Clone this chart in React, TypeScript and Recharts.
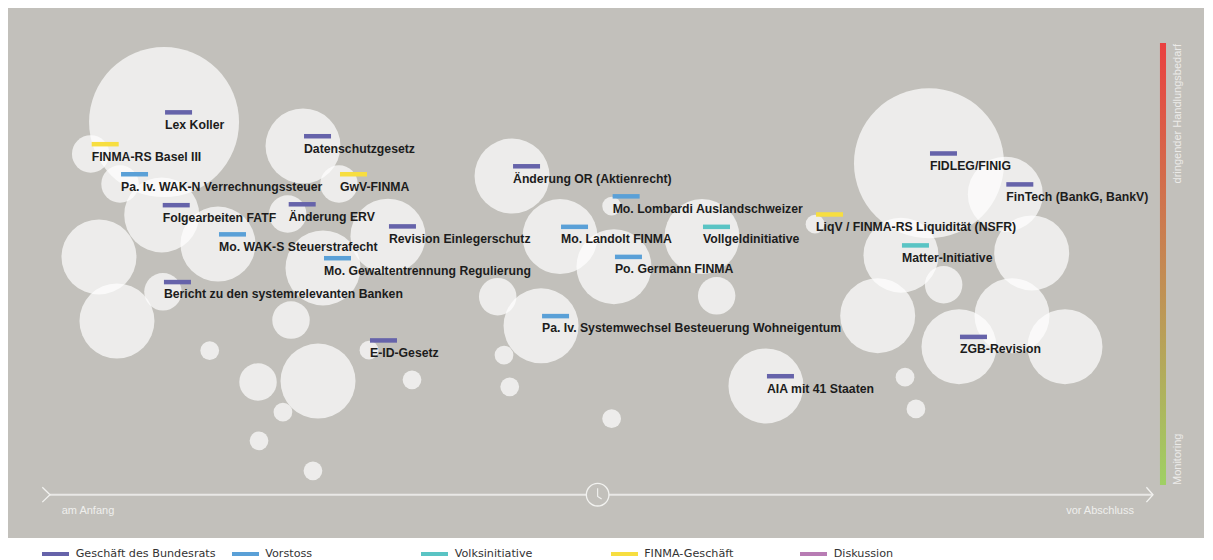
import React from 'react';
import { ScatterChart, Scatter, XAxis, YAxis, ZAxis, ReferenceArea } from 'recharts';

// ---- categories (legend) ----
const categoryNames = ['Geschäft des Bundesrats', 'Vorstoss', 'Volksinitiative', 'FINMA-Geschäft', 'Diskussion'];
const categoryColors = ['#6663aa', '#5aa0d7', '#5ac4c4', '#f7de40', '#b87cb4'];

// ---- items ----
const titles = [
  'Lex Koller', 'FINMA-RS Basel III', 'Pa. Iv. WAK-N Verrechnungssteuer', 'Folgearbeiten FATF',
  'Datenschutzgesetz', 'GwV-FINMA', 'Änderung ERV', 'Mo. WAK-S Steuerstrafecht', '',
  'Revision Einlegerschutz', 'Mo. Gewaltentrennung Regulierung', 'Bericht zu den systemrelevanten Banken',
  '', '', '', 'E-ID-Gesetz', '', '', '', '', '', '',
  'Änderung OR (Aktienrecht)', 'Mo. Lombardi Auslandschweizer', 'Mo. Landolt FINMA', 'Po. Germann FINMA',
  'Vollgeldinitiative', 'LiqV / FINMA-RS Liquidität (NSFR)', '', 'Pa. Iv. Systemwechsel Besteuerung Wohneigentum',
  '', '', '', 'AIA mit 41 Staaten', '',
  'FIDLEG/FINIG', 'FinTech (BankG, BankV)', 'Matter-Initiative', '', '', '', '', 'ZGB-Revision', '', '', '',
];
// index into categoryNames, -1 = unlabeled
const kinds = [
  0, 3, 1, 0,
  0, 3, 0, 1, -1,
  0, 1, 0,
  -1, -1, -1, 0, -1, -1, -1, -1, -1, -1,
  0, 1, 1, 1,
  2, 3, -1, 1,
  -1, -1, -1, 0, -1,
  0, 0, 2, -1, -1, -1, -1, 0, -1, -1, -1,
];
// 0 = am Anfang, 100 = vor Abschluss
const progress = [
  10.34, 3.69, 6.35, 10.13,
  22.94, 26.2, 21.55, 15.23, 4.44,
  30.64, 24.75, 10.24,
  6.07, 21.85, 14.48, 28.92, 18.86, 24.3, 32.82, 21.12, 18.95, 23.84,
  41.89, 50.92, 46.24, 51.13,
  59.11, 69.36, 40.59, 44.52,
  60.44, 41.16, 41.68, 64.91, 50.92,
  79.69, 86.61, 77.15, 89.0, 81.02, 75.04, 87.22, 82.41, 92.02, 77.52, 78.51,
];
// 0 = Monitoring, 100 = dringender Handlungsbedarf
const urgency = [
  82.1, 74.9, 68.1, 61.1,
  76.7, 68.1, 61.3, 54.5, 51.6,
  56.3, 49.1, 43.7,
  37.1, 37.3, 30.4, 30.5, 23.3, 23.5, 23.8, 16.5, 10.0, 3.2,
  69.9, 63.1, 56.2, 49.4,
  56.2, 59.0, 42.6, 36.0,
  42.8, 29.4, 22.2, 22.4, 15.0,
  72.8, 65.8, 52.0, 52.5, 45.3, 38.3, 38.3, 31.3, 31.3, 24.4, 17.2,
];
// relative weight (bubble area)
const weight = [
  64, 4, 4, 16,
  16, 4, 4, 16, 16,
  16, 16, 4,
  16, 4, 1, 1, 4, 16, 1, 1, 1, 1,
  16, 1, 16, 16,
  16, 1, 4, 16,
  4, 1, 1, 16, 1,
  64, 16, 16, 16, 4, 16, 16, 16, 16, 1, 1,
];

const axisTicks = [0, 49.65, 100];
const axisLabels = ['am Anfang', '', 'vor Abschluss'];
const scaleLabels = ['Monitoring', 'dringender Handlungsbedarf'];

const rows = titles.map((t, i) => ({
  title: t,
  kind: kinds[i],
  x: progress[i],
  y: urgency[i],
  z: weight[i],
}));
const labeledRows = rows.filter((r) => r.title !== '');

const BG = '#c2c0bb';
const LIGHT = '#ecebe9';

const Bubble = (p: any) => {
  const r = p.width ? p.width / 2 : Math.sqrt((p.size || 0) / Math.PI);
  return <circle cx={p.cx} cy={p.cy} r={r} fill="#ffffff" fillOpacity={0.7} />;
};

const Tag = (p: any) => {
  const d = p.payload;
  if (!d || !d.title) return <g />;
  return (
    <g>
      <rect x={p.cx + 1} y={p.cy - 12} width={27} height={4.5} fill={categoryColors[d.kind]} />
      <text
        x={p.cx + 1}
        y={p.cy + 6.6}
        fontFamily="'Liberation Sans', Arial, sans-serif"
        fontWeight="bold"
        fontSize={12.25}
        fill="#1c1c1c"
      >
        {d.title}
      </text>
    </g>
  );
};

const AxisTick = (p: any) => {
  const { x, y, payload, index } = p;
  const v = payload.value;
  const label = axisLabels[index] ?? '';
  if (v === 0) {
    return (
      <g>
        <polyline points={`${x - 7.7},${y - 7.4} ${x},${y} ${x - 7.7},${y + 7.4}`} fill="none" stroke="#f2f2f0" strokeWidth={1.3} />
        <text x={x + 11.7} y={y + 19.6} fontFamily="'Liberation Sans', Arial, sans-serif" fontSize={11} fill="#efefed">
          {label}
        </text>
      </g>
    );
  }
  if (v === 100) {
    return (
      <g>
        <polyline points={`${x - 6.6},${y - 7.4} ${x},${y} ${x - 6.6},${y + 7.4}`} fill="none" stroke="#f2f2f0" strokeWidth={1.3} />
        <text x={x - 19} y={y + 19.6} textAnchor="end" fontFamily="'Liberation Sans', Arial, sans-serif" fontSize={11} fill="#efefed">
          {label}
        </text>
      </g>
    );
  }
  return (
    <g>
      <circle cx={x} cy={y} r={11.3} fill={BG} stroke="#f2f2f0" strokeWidth={1.3} />
      <polyline points={`${x},${y - 6.4} ${x},${y + 1.8} ${x + 4},${y + 4.3}`} fill="none" stroke="#f2f2f0" strokeWidth={1.1} />
    </g>
  );
};

const ScaleBar = (p: any) => {
  const { x, y, width, height } = p;
  const tx = x + width + 15;
  return (
    <g>
      <defs>
        <linearGradient id="urgencyGrad" x1="0" y1="0" x2="0" y2="1">
          <stop offset="0%" stopColor="#ea4040" />
          <stop offset="100%" stopColor="#9fd064" />
        </linearGradient>
      </defs>
      <rect x={x} y={y} width={width} height={height} fill="url(#urgencyGrad)" />
      <text
        transform={`translate(${tx},${y + 1}) rotate(-90)`}
        textAnchor="end"
        fontFamily="'Liberation Sans', Arial, sans-serif"
        fontSize={11}
        fill={LIGHT}
      >
        {scaleLabels[1]}
      </text>
      <text
        transform={`translate(${tx},${y + height}) rotate(-90)`}
        textAnchor="start"
        fontFamily="'Liberation Sans', Arial, sans-serif"
        fontSize={11}
        fill={LIGHT}
      >
        {scaleLabels[0]}
      </text>
    </g>
  );
};

export default function App() {
  return (
    <div style={{ position: 'relative', width: 1196, height: 552 }}>
      <div style={{ position: 'absolute', left: 0, top: 0, width: 1196, height: 530, background: BG }} />
      <div style={{ position: 'absolute', left: 0, top: 0 }}>
        <ScatterChart width={1196} height={530} margin={{ top: 35, right: 51, bottom: 13.3, left: 42 }}>
          <XAxis
            type="number"
            dataKey="x"
            domain={[0, 100]}
            ticks={axisTicks}
            interval={0}
            allowDataOverflow
            height={30}
            tickSize={0}
            tickMargin={0}
            tickLine={false}
            axisLine={{ stroke: '#e9e8e6', strokeWidth: 2 }}
            tick={<AxisTick />}
          />
          <YAxis type="number" dataKey="y" domain={[-2.2, 100]} hide allowDataOverflow />
          <ZAxis type="number" dataKey="z" domain={[0, 64]} range={[0, Math.PI * 75 * 75]} />
          <ReferenceArea x1={100.63} x2={101.18} y1={0} y2={100} ifOverflow="visible" shape={<ScaleBar />} />
          <Scatter data={rows} shape={<Bubble />} isAnimationActive={false} />
          <Scatter data={labeledRows} shape={<Tag />} isAnimationActive={false} />
        </ScatterChart>
      </div>
      {categoryNames.map((name, i) => (
        <div
          key={name}
          style={{
            position: 'absolute',
            left: 34 + i * 189.5,
            top: 538,
            height: 16,
            display: 'flex',
            alignItems: 'center',
            whiteSpace: 'nowrap',
          }}
        >
          <div style={{ width: 27, height: 3.5, background: categoryColors[i], marginRight: 6.7 }} />
          <span style={{ fontFamily: "'DejaVu Sans', sans-serif", fontSize: 11.2, color: '#333333', lineHeight: '16px' }}>{name}</span>
        </div>
      ))}
    </div>
  );
}
